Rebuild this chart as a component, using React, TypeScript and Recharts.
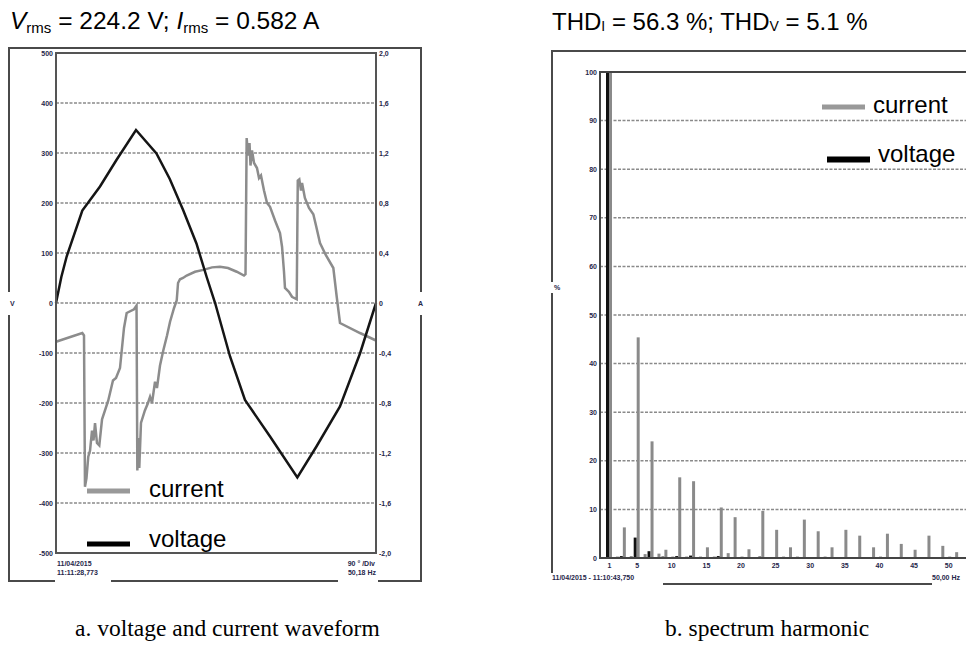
import React from 'react';
import { LineChart, Line, XAxis, YAxis, CartesianGrid, BarChart, Bar } from 'recharts';

// ---------- Panel a: waveform ----------
const voltageDeg = [0, 6, 12, 29.6, 49.5, 68, 90, 113, 128, 143, 158, 169.5, 179, 195.8, 212.6, 240.8, 271.5, 293, 319.5, 342, 360];
const voltageV = [0, 52, 93, 185, 233, 286, 346, 299, 248, 186, 119, 52, 0, -107, -194, -267, -349, -287, -207, -101, 0];

const currentDeg = [0, 29.6, 31.5, 32.6, 34.3, 36.3, 38.3, 40.5, 42.2, 43.9, 46.1, 48.7, 51.8, 58.8, 64.1, 67.5, 72, 76.5, 79.5, 87.8, 90.6,
  91.5, 92.8, 93.7, 95.6, 100, 103.5, 105.8, 108, 111.4, 113.6, 117, 120.7, 124.9, 128.3, 132.8, 135.8, 137.3, 139.5, 142.9, 147, 156.4,
  165.7, 175.5, 184.5, 193.5, 203.3, 211.5, 213.2, 214.5, 216, 217.7, 218.8, 220.5, 222.8, 226.1, 228.4, 230.6, 234, 237.4, 240.8, 246.4,
  252, 254.3, 256.5, 257.6, 262, 265.5, 270.8, 272, 273.7, 275.6, 276.8, 280, 284.6, 289.5, 292.5, 297, 303.8, 312, 315.8, 319.5, 342, 360];
const currentA = [-0.31, -0.24, -0.26, -1.47, -1.4, -1.23, -1.18, -1.02, -1.1, -0.96, -1.12, -1.14, -0.93, -0.78, -0.62, -0.6, -0.52, -0.2, -0.08, -0.05, -0.02,
  -1.34, -1.08, -1.32, -0.96, -0.86, -0.8, -0.75, -0.8, -0.63, -0.68, -0.5, -0.38, -0.26, -0.15, -0.04, 0.02, 0.16, 0.19, 0.2, 0.22, 0.25,
  0.265, 0.285, 0.29, 0.28, 0.25, 0.22, 0.23, 1.32, 1.18, 1.28, 1.1, 1.22, 1.12, 1.08, 1.0, 1.02, 0.9, 0.8, 0.77, 0.66,
  0.56, 0.45, 0.25, 0.12, 0.09, 0.05, 0.03, 0.98, 0.99, 0.9, 0.96, 0.84, 0.76, 0.71, 0.62, 0.48, 0.38, 0.28, 0.05, -0.16, -0.24, -0.3];

const voltageTicks = [-500, -400, -300, -200, -100, 0, 100, 200, 300, 400, 500];
const currentTicks = [-2, -1.6, -1.2, -0.8, -0.4, 0, 0.4, 0.8, 1.2, 1.6, 2];
const phaseTicks = [0, 90, 180, 270, 360];

// ---------- Panel b: spectrum ----------
const harmonics = [1, 2, 3, 4, 5, 6, 7, 8, 9, 10, 11, 12, 13, 14, 15, 16, 17, 18, 19, 20, 21, 22, 23, 24, 25, 26,
  27, 28, 29, 30, 31, 32, 33, 34, 35, 36, 37, 38, 39, 40, 41, 42, 43, 44, 45, 46, 47, 48, 49, 50, 51, 52];
const currentPct = [100, 0.3, 6.3, 0.4, 45.4, 0.8, 24.0, 0.9, 1.7, 0.3, 16.6, 0.3, 15.8, 0.3, 2.2, 0.3, 10.4, 1.0, 8.4, 0.3, 1.8, 0.2, 9.7, 0.2, 5.8, 0.3,
  2.2, 0.3, 7.9, 0.2, 5.5, 0.3, 2.2, 0.2, 5.8, 0.2, 4.6, 0.2, 2.2, 0.3, 5.0, 0.2, 2.9, 0.2, 1.7, 0.2, 4.6, 0.2, 2.5, 0.3, 1.2, 0.2];
const voltagePct = [100, 0.1, 0.4, 0.1, 4.2, 0.1, 1.4, 0.1, 0.3, 0.1, 0.4, 0.1, 0.5, 0.1, 0.2, 0.1, 0.4, 0.1, 0.2, 0.1, 0.2, 0.1, 0.3, 0.1, 0.2, 0.1,
  0.2, 0.1, 0.2, 0.1, 0.2, 0.1, 0.1, 0.1, 0.2, 0.1, 0.1, 0.1, 0.1, 0.1, 0.1, 0.1, 0.1, 0.1, 0.1, 0.1, 0.1, 0.1, 0.1, 0.1, 0.1, 0.1];
const harmonicTickLabels = [1, 5, 10, 15, 20, 25, 30, 35, 40, 45, 50];
const pctTicks = [0, 10, 20, 30, 40, 50, 60, 70, 80, 90, 100];

const voltageData = voltageDeg.map((d, i) => ({ deg: d, v: voltageV[i] }));
const currentData = currentDeg.map((d, i) => ({ deg: d, a: currentA[i] }));
const spectrumData = harmonics.map((h, i) => ({ h: String(h), voltage: voltagePct[i], current: currentPct[i] }));

const SANS = 'Liberation Sans, Arial, sans-serif';
const SERIF = 'Liberation Serif, Times New Roman, serif';
const TICK_FILL = '#26264a';
const GRID = '#8a8a8a';

const fmtAmp = (v: number) => (v === 0 ? '0' : v.toFixed(1).replace('.', ','));

const LeftTick = (p: any) => (
  <text x={p.x} y={p.y} dy={2.5} textAnchor="end" fontSize={7} fontWeight="bold" fill={TICK_FILL} fontFamily={SANS}>
    {p.payload.value}
  </text>
);
const RightTick = (p: any) => (
  <text x={p.x} y={p.y} dy={2.5} textAnchor="start" fontSize={7} fontWeight="bold" fill={TICK_FILL} fontFamily={SANS}>
    {fmtAmp(Number(p.payload.value))}
  </text>
);
const HarmTick = (p: any) => {
  const v = Number(p.payload.value);
  if (!harmonicTickLabels.includes(v)) return <g />;
  return (
    <text x={p.x} y={p.y} dy={6} textAnchor="middle" fontSize={7} fontWeight="bold" fill={TICK_FILL} fontFamily={SANS}>
      {v}
    </text>
  );
};

const smallText = { fontSize: 7, fontWeight: 'bold' as const, fill: TICK_FILL, fontFamily: SANS };

export default function App() {
  return (
    <div style={{ position: 'absolute', left: 0, top: 0, width: 966, height: 655, overflow: 'hidden', background: '#fff' }}>
      {/* Panel a */}
      <div style={{ position: 'absolute', left: 0, top: 0 }}>
        <LineChart width={430} height={600} margin={{ top: 53, right: 14, bottom: 27, left: 16 }}>
          <CartesianGrid xAxisId="deg" yAxisId="v" vertical={false} stroke={GRID} strokeWidth={1.5} strokeDasharray="3 1.5" />
          <CartesianGrid xAxisId="deg" yAxisId="v" horizontal={false} stroke="#666" strokeWidth={1} strokeDasharray="3 2" />
          <XAxis xAxisId="deg" type="number" dataKey="deg" domain={[0, 360]} ticks={phaseTicks} tick={false} tickLine={false} axisLine={false} height={20} />
          <YAxis yAxisId="v" domain={[-500, 500]} ticks={voltageTicks} width={40} axisLine={false} tickLine={false} tickSize={2} tickMargin={1} tick={<LeftTick />} />
          <YAxis yAxisId="a" orientation="right" domain={[-2, 2]} ticks={currentTicks} width={40} axisLine={false} tickLine={false} tickSize={2} tickMargin={1} tick={<RightTick />} />
          <Line xAxisId="deg" yAxisId="a" data={currentData} dataKey="a" type="linear" stroke="#8c8c8c" strokeWidth={2.5} dot={false} isAnimationActive={false} />
          <Line xAxisId="deg" yAxisId="v" data={voltageData} dataKey="v" type="linear" stroke="#151515" strokeWidth={2.5} dot={false} isAnimationActive={false} />
        </LineChart>
      </div>

      {/* Panel b */}
      <div style={{ position: 'absolute', left: 540, top: 0 }}>
        <BarChart width={440} height={600} data={spectrumData} margin={{ top: 72, right: 10, bottom: 22, left: 40 }} barSize={3} barGap={1} barCategoryGap={0}>
          <CartesianGrid vertical={false} stroke={GRID} strokeWidth={1.5} strokeDasharray="3 1.5" />
          <XAxis dataKey="h" interval={0} tick={<HarmTick />} tickLine={false} tickSize={2} tickMargin={2} axisLine={{ stroke: '#333', strokeWidth: 2 }} height={20} padding={{ left: 6, right: 4 }} />
          <YAxis domain={[0, 100]} ticks={pctTicks} width={20} axisLine={false} tickLine={false} tickSize={2} tickMargin={1} tick={<LeftTick />} />
          <Bar dataKey="voltage" fill="#111" isAnimationActive={false} />
          <Bar dataKey="current" fill="#8a8a8a" isAnimationActive={false} />
        </BarChart>
      </div>

      {/* Decorations, titles, legends */}
      <svg width={966} height={655} style={{ position: 'absolute', left: 0, top: 0, pointerEvents: 'none' }}>
        {/* titles */}
        <text x={10} y={29} fontSize={24.5} fontFamily={SANS} fill="#000" style={{ whiteSpace: 'pre' }}>
          <tspan fontStyle="italic">V</tspan>
          <tspan fontSize={15} dy={4}>rms</tspan>
          <tspan dy={-4}>{' = 224.2 V; '}</tspan>
          <tspan fontStyle="italic">I</tspan>
          <tspan fontSize={15} dy={4}>rms</tspan>
          <tspan dy={-4}>{' = 0.582 A'}</tspan>
        </text>
        <text x={552} y={30} fontSize={24} fontFamily={SANS} fill="#000" style={{ whiteSpace: 'pre' }}>
          <tspan>THD</tspan>
          <tspan fontSize={14} dy={1}>I</tspan>
          <tspan dy={-1}>{' = 56.3 %; THD'}</tspan>
          <tspan fontSize={14} dy={1}>V</tspan>
          <tspan dy={-1}>{' = 5.1 %'}</tspan>
        </text>

        {/* panel a frames */}
        <g stroke="#4a4a4a" strokeWidth={2} fill="none">
          <polyline points="55,581 9,581 9,315" />
          <polyline points="9,292 9,48 421,48 421,292" />
          <polyline points="421,315 421,581 378,581" />
          <line x1={111} y1={581} x2={338} y2={581} />
          <rect x={56} y={53} width={320} height={500} stroke="#555" />
        </g>
        <text x={10} y={306} {...smallText}>V</text>
        <text x={418} y={306} {...smallText}>A</text>
        <text x={57} y={566} {...smallText}>11/04/2015</text>
        <text x={57} y={575} {...smallText}>11:11:28,773</text>
        <text x={375} y={566} textAnchor="end" {...smallText}>90 ° /Div</text>
        <text x={376} y={575} textAnchor="end" {...smallText}>50,18 Hz</text>

        {/* panel a legend */}
        <line x1={87} y1={491} x2={130} y2={491} stroke="#999" strokeWidth={5} />
        <text x={149} y={497} fontSize={24} fontFamily={SANS} fill="#000">current</text>
        <line x1={87} y1={544} x2={130} y2={544} stroke="#000" strokeWidth={5} />
        <text x={149} y={547} fontSize={24} fontFamily={SANS} fill="#000">voltage</text>

        {/* panel b frames */}
        <g stroke="#4a4a4a" strokeWidth={2} fill="none">
          <polyline points="552,573 552,293" />
          <polyline points="552,282 552,51 970,51" />
          <line x1={663} y1={584} x2={932} y2={584} />
          <rect x={600} y={72} width={370} height={486} stroke="#444" />
        </g>
        <text x={554} y={290} {...smallText}>%</text>
        <text x={552} y={580} {...smallText}>11/04/2015 - 11:10:43,750</text>
        <text x={932} y={580} {...smallText}>50,00 Hz</text>

        {/* panel b legend */}
        <line x1={822} y1={107} x2={865} y2={107} stroke="#999" strokeWidth={5} />
        <text x={873} y={113} fontSize={24} fontFamily={SANS} fill="#000">current</text>
        <line x1={827} y1={159.5} x2={870} y2={159.5} stroke="#000" strokeWidth={6} />
        <text x={878} y={162} fontSize={24} fontFamily={SANS} fill="#000">voltage</text>

        {/* captions */}
        <text x={75} y={636} fontSize={23.5} fontFamily={SERIF} fill="#000">a. voltage and current waveform</text>
        <text x={665} y={636} fontSize={23.5} fontFamily={SERIF} fill="#000">b. spectrum harmonic</text>
      </svg>
    </div>
  );
}
